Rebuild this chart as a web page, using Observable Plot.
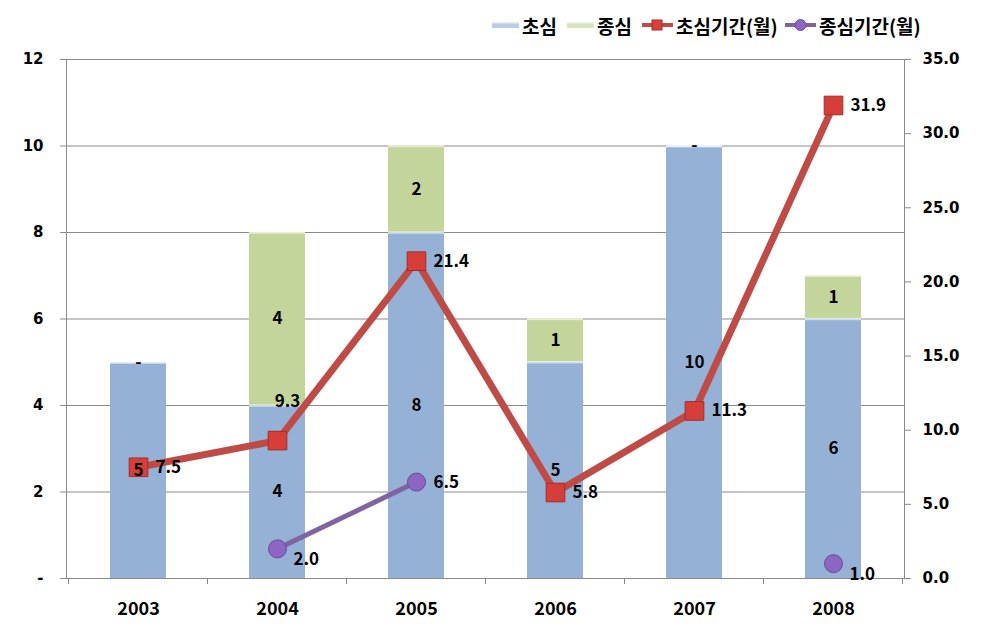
<!DOCTYPE html>
<html><head><meta charset="utf-8">
<script src="https://cdn.jsdelivr.net/npm/d3@7"></script>
<script src="https://cdn.jsdelivr.net/npm/@observablehq/plot@0.6"></script>
<style>
body{margin:0;background:#fff;}
#legend{position:relative;height:44px;width:981px;font-family:"Noto Sans CJK KR";font-weight:bold;font-size:19px;color:#000;}
.item{position:absolute;top:12px;height:26px;display:flex;align-items:center;white-space:nowrap;}
.item svg{margin-right:3px;}
</style></head><body>
<div id="legend"></div>
<div id="chart"></div>
<script>
const years = ["2003","2004","2005","2006","2007","2008"];
const chosim = [5,4,8,5,10,6];               // 초심 (left axis)
const jongsim = [0,4,2,1,0,1];               // 종심 (left axis)
const chosimPeriod = [7.5,9.3,21.4,5.8,11.3,31.9];   // 초심기간(월) (right axis)
const jongsimPeriod = [null,2.0,6.5,null,null,1.0];  // 종심기간(월) (right axis)
const leftTicks = [0,2,4,6,8,10,12];
const rightTicks = [0,5,10,15,20,25,30,35];
const seriesNames = ["초심","종심","초심기간(월)","종심기간(월)"];

const leftMax = 12, rightMax = 35, k = leftMax / rightMax;
const BLUE = "#95B1D6", GREEN = "#C3D59B", RED = "#BF4B47", PURPLE = "#8064A2";
const numFont = "DejaVu Sans", krFont = "Noto Sans CJK KR";

// tables built from the arrays
const bars = [];
years.forEach((y, i) => {
  bars.push({year: y, kind: seriesNames[0], value: chosim[i]});
  bars.push({year: y, kind: seriesNames[1], value: jongsim[i]});
});
const redPts = years.map((y, i) => ({year: y, v: chosimPeriod[i]}));
const purplePts = years.map((y, i) => ({year: y, v: jongsimPeriod[i]})).filter(d => d.v != null);
const purpleLine = years.map((y, i) => ({year: y, v: jongsimPeriod[i]}));

// legend
const legend = document.getElementById("legend");
const legendItems = [
  {left: 492, name: seriesNames[0], sw: `<svg width="27" height="10"><rect x="0" y="2" width="27" height="6" fill="#B9CDE5"/><rect x="0" y="2" width="27" height="1.5" fill="#E3ECF7"/></svg>`},
  {left: 567, name: seriesNames[1], sw: `<svg width="27" height="10"><rect x="0" y="2" width="27" height="6" fill="#D7E4BD"/><rect x="0" y="2" width="27" height="1.5" fill="#EEF3E2"/></svg>`},
  {left: 642, name: seriesNames[2], sw: `<svg width="31" height="14"><line x1="0" x2="31" y1="7" y2="7" stroke="${RED}" stroke-width="4"/><rect x="10" y="2" width="10" height="10" fill="#D8403A" stroke="#A52C28"/></svg>`},
  {left: 785, name: seriesNames[3], sw: `<svg width="31" height="14"><line x1="0" x2="31" y1="7" y2="7" stroke="${PURPLE}" stroke-width="4"/><circle cx="15.5" cy="7" r="5.5" fill="#8C66C2" stroke="#6A4A98"/></svg>`}
];
for (const it of legendItems) {
  const d = document.createElement("div");
  d.className = "item";
  d.style.left = it.left + "px";
  d.innerHTML = it.sw + "<span>" + it.name + "</span>";
  legend.appendChild(d);
}

// ticks between categories on the x axis
function boundaryTicks(index, scales, values, dims) {
  const x = scales.x, bw = x.bandwidth(), step = x.step();
  const yb = dims.height - dims.marginBottom;
  const g = d3.create("svg:g").attr("stroke", "#888");
  const xs = years.map(y => x(y) + bw / 2 - step / 2);
  xs.push(x(years[years.length - 1]) + bw / 2 + step / 2);
  for (const xv of xs) g.append("line").attr("x1", xv).attr("x2", xv).attr("y1", yb).attr("y2", yb + 6);
  return g.node();
}

const lbl = {fontFamily: krFont, fontWeight: "bold", fontSize: 17, fill: "#000"};

const chart = Plot.plot({
  width: 981,
  height: 596,
  marginTop: 15,
  marginBottom: 62,
  marginLeft: 66,
  marginRight: 77,
  style: {background: "#fff", color: "#000"},
  x: {domain: years, paddingInner: 0.6, paddingOuter: 0.3, axis: null},
  y: {domain: [0, leftMax], axis: null},
  color: {domain: [seriesNames[0], seriesNames[1]], range: [BLUE, GREEN]},
  marks: [
    Plot.ruleY(leftTicks, {stroke: "#8a8a8a"}),
    Plot.frame({stroke: "#8a8a8a"}),
    Plot.barY(bars, Plot.stackY({x: "year", y: "value", fill: "kind"})),
    Plot.tickY(bars, Plot.stackY2({x: "year", y: "value", stroke: "white", strokeOpacity: 0.55, strokeWidth: 2.5})),
    // left axis
    Plot.axisY({ticks: leftTicks, tickFormat: d => d === 0 ? "-" : String(d), tickSize: 6, tickPadding: 17,
      stroke: "#8a8a8a", fontFamily: numFont, fontWeight: "bold", fontSize: 15, label: null}),
    // right axis (values 0..35 mapped onto the left scale)
    Plot.axisY({anchor: "right", ticks: rightTicks.map(t => t * k), tickFormat: d => (d / k).toFixed(1),
      tickSize: 6, tickPadding: 12, stroke: "#8a8a8a", fontFamily: numFont, fontWeight: "bold", fontSize: 15, label: null}),
    // x axis
    Plot.axisX({tickSize: 0, tickPadding: 24, fontFamily: krFont, fontWeight: "bold", fontSize: 18, label: null}),
    boundaryTicks,
    // 초심기간 line
    Plot.line(redPts, {x: "year", y: d => d.v * k, stroke: RED, strokeWidth: 7, strokeLinejoin: "miter"}),
    Plot.dot(redPts, {x: "year", y: d => d.v * k, symbol: "square", r: 10.5, fill: "#D63F39", stroke: "#A32B27", strokeWidth: 1}),
    // 종심기간 line
    Plot.line(purpleLine, {x: "year", y: d => d.v == null ? NaN : d.v * k, stroke: PURPLE, strokeWidth: 5}),
    Plot.dot(purplePts, {x: "year", y: d => d.v * k, r: 9, fill: "#8C66C2", stroke: "#6A4A98", strokeWidth: 1}),
    // bar value labels
    Plot.text(bars, Plot.stackY({x: "year", y: "value",
      text: d => d.value === 0 ? "-" : String(d.value), ...lbl})),
    // line value labels
    Plot.text(redPts.filter(d => d.year !== "2004"), {x: "year", y: d => d.v * k, text: d => d.v.toFixed(1),
      textAnchor: "start", dx: 17, ...lbl}),
    Plot.text(redPts.filter(d => d.year === "2004"), {x: "year", y: d => d.v * k, text: d => d.v.toFixed(1),
      dx: 10, dy: -39, ...lbl}),
    Plot.text(purplePts.filter(d => d.year !== "2005"), {x: "year", y: d => d.v * k, text: d => d.v.toFixed(1),
      textAnchor: "start", dx: 16, dy: 11, ...lbl}),
    Plot.text(purplePts.filter(d => d.year === "2005"), {x: "year", y: d => d.v * k, text: d => d.v.toFixed(1),
      textAnchor: "start", dx: 17, ...lbl})
  ]
});
document.getElementById("chart").appendChild(chart);
</script>
</body></html>
